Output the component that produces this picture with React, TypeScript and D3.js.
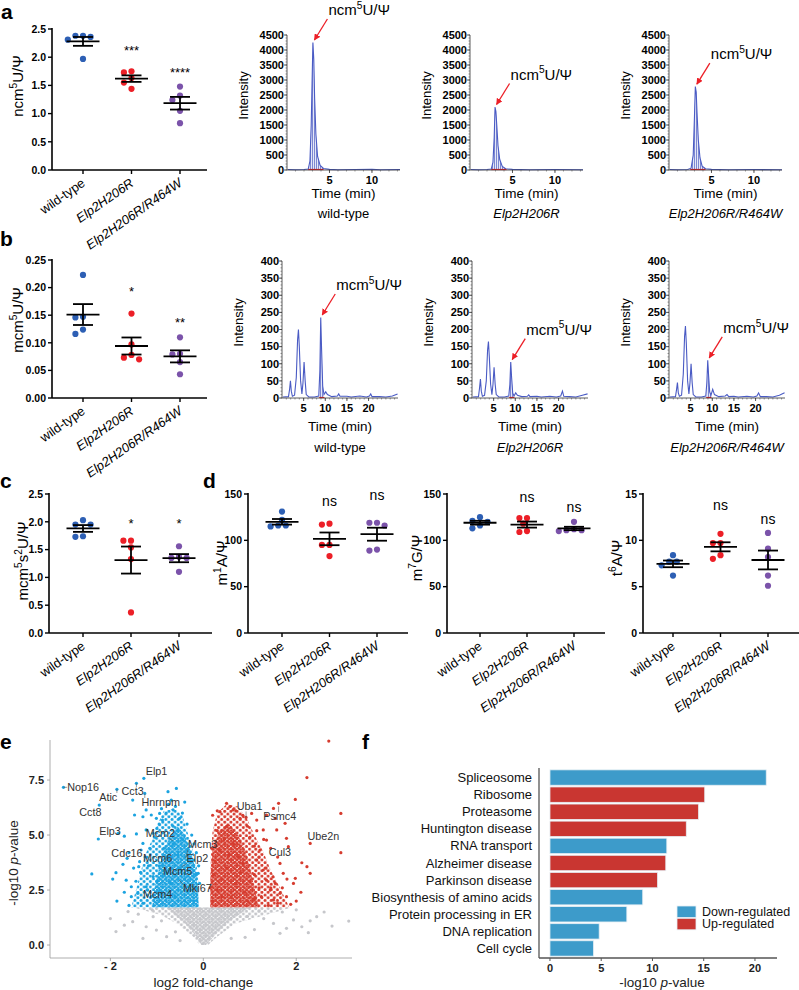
import * as d3 from "d3";

const FONT = "'Liberation Sans', Arial, Helvetica, sans-serif";

const genotypes = ["wild-type", "Elp2H206R", "Elp2H206R/R464W"];
const groupColors = ["#2d5fb4", "#ec1f27", "#7b53aa"];

// a — ncm5U/Ψ
const ncm5U = [
  [2.38, 2.36, 2.38, 2.31, 1.97],
  [1.75, 1.73, 1.63, 1.55, 1.44],
  [1.48, 1.32, 1.24, 1.05, 0.83],
];
const ncm5USigText = ["", "***", "****"];
const ncm5USigLevel = [0, 2.18, 1.79];

// b — mcm5U/Ψ
const mcm5U = [
  [0.223, 0.147, 0.146, 0.124, 0.116],
  [0.153, 0.097, 0.078, 0.073, 0.07],
  [0.11, 0.08, 0.079, 0.065, 0.043],
];
const mcm5USigText = ["", "*", "**"];
const mcm5USigLevel = [0, 0.199, 0.143];

// c — mcm5s2U/Ψ
const mcm5s2U = [
  [2.03, 1.95, 1.95, 1.74, 1.73],
  [1.66, 1.66, 1.54, 1.33, 0.37],
  [1.56, 1.37, 1.35, 1.35, 1.1],
];
const mcm5s2USigText = ["", "*", "*"];
const mcm5s2USigLevel = [0, 2.03, 2.03];

// d — m1A, m7G, t6A
const m1A = [
  [131, 122, 116, 115, 116],
  [118, 117, 95, 95, 83],
  [119, 119, 116, 90, 89],
];
const m1ASigLevel = [0, 141, 148];
const m7G = [
  [125, 120, 121, 113, 116],
  [124, 124, 118, 109, 110],
  [120, 111, 112, 111, 110],
];
const m7GSigLevel = [0, 146, 135];
const t6A = [
  [8.4, 7.7, 7.7, 7.3, 6.2],
  [10.7, 9.7, 9.7, 8.0, 8.4],
  [10.8, 9.1, 8.2, 6.2, 5.1],
];
const t6ASigLevel = [0, 13.7, 12.2];
const nsText = ["", "ns", "ns"];

// chromatogram traces [time (min), intensity]
const ncmTraceWT = [[0.1, 15], [1, 10], [2, 15], [2.5, 30], [2.7, 300], [2.85, 1500], [2.95, 2900], [3.05, 4250], [3.15, 3700], [3.25, 2400], [3.4, 1200], [3.6, 450], [3.9, 150], [4.3, 50], [5, 20], [6, 10], [8, 15], [10, 20], [11, 10], [13.3, 15]];
const ncmTraceH206R = [[0.1, 15], [1, 10], [2, 15], [2.5, 30], [2.7, 250], [2.85, 1100], [2.95, 2100], [3.05, 1950], [3.15, 1500], [3.3, 800], [3.5, 350], [3.8, 120], [4.2, 40], [5, 20], [7, 10], [10, 15], [13.3, 10]];
const ncmTraceR464W = [[0.1, 15], [1, 10], [2.2, 15], [2.6, 60], [2.85, 500], [3.0, 1800], [3.1, 2780], [3.2, 2600], [3.3, 1900], [3.45, 1000], [3.65, 400], [3.9, 130], [4.3, 40], [5, 20], [7, 10], [10, 15], [13.3, 10]];
const mcmTraceWT = [[0.2, 3], [1.5, 4], [1.75, 25], [1.95, 50], [2.15, 20], [2.4, 5], [2.9, 8], [3.3, 60], [3.6, 170], [3.8, 200], [4.0, 150], [4.3, 50], [4.6, 12], [4.85, 45], [5.1, 105], [5.35, 50], [5.6, 10], [6.2, 3], [7.5, 3], [8.5, 6], [8.75, 80], [8.95, 235], [9.15, 140], [9.4, 35], [9.7, 10], [10.1, 18], [10.5, 10], [11.5, 4], [12.8, 6], [13.1, 12], [13.4, 5], [15, 5], [16, 3], [18, 6], [19.5, 3], [20.2, 6], [20.5, 12], [20.8, 4], [22.5, 4], [24, 3], [25.5, 6], [26.7, 12]];
const mcmTraceH206R = [[0.2, 3], [1.5, 4], [1.75, 30], [1.95, 55], [2.15, 20], [2.4, 5], [2.9, 8], [3.3, 50], [3.6, 140], [3.8, 165], [4.0, 120], [4.3, 40], [4.6, 10], [4.85, 40], [5.1, 90], [5.35, 40], [5.6, 10], [6.2, 3], [7.5, 3], [8.5, 6], [8.75, 40], [8.95, 105], [9.15, 60], [9.4, 15], [9.7, 6], [10.1, 15], [10.5, 8], [11.5, 4], [12.8, 5], [13.1, 9], [13.4, 4], [15, 5], [16, 3], [18, 5], [19.5, 3], [20.5, 6], [20.9, 20], [21.2, 5], [22.5, 4], [24, 3], [25.5, 8], [26.7, 12]];
const mcmTraceR464W = [[0.2, 3], [1.5, 4], [1.75, 25], [1.95, 45], [2.15, 15], [2.4, 5], [2.9, 8], [3.3, 70], [3.6, 180], [3.8, 210], [4.0, 160], [4.3, 50], [4.6, 12], [4.85, 45], [5.1, 100], [5.35, 45], [5.6, 10], [6.2, 3], [7.5, 3], [8.5, 6], [8.75, 45], [8.95, 110], [9.15, 65], [9.4, 18], [9.7, 8], [10.1, 25], [10.5, 10], [11.5, 4], [13.0, 6], [13.4, 10], [13.8, 4], [15, 5], [16, 3], [18, 5], [19.5, 3], [20.3, 6], [20.7, 15], [21.1, 4], [22.5, 4], [24, 3], [25.5, 8], [26.7, 15]];

// e — volcano [log2 FC, -log10 p]
const volcanoUp = [[2.70, 9.27], [2.23, 7.61], [1.98, 6.62], [2.96, 5.98], [2.96, 4.2], [2.30, 4.62], [2.12, 3.74], [2.23, 3.56], [2.30, 3.26], [1.98, 3.03], [1.94, 2.8], [1.83, 4.47], [1.79, 4.85], [1.76, 5.53], [1.62, 6.44], [1.51, 6.21], [1.55, 5.76], [1.36, 5.91], [1.29, 5.23], [1.36, 4.77], [1.58, 5.23], [1.65, 3.71], [1.72, 3.26], [1.55, 2.8], [1.44, 2.5], [1.65, 2.35], [1.79, 2.2], [1.51, 2.05], [1.15, 5.68], [1.04, 5.98], [0.92, 5.8], [0.79, 5.76], [0.57, 6.29], [0.50, 6.44], [0.36, 6.06], [0.64, 6.14], [1.22, 4.32], [1.15, 3.86], [1.29, 3.41], [1.36, 2.95], [1.45, 2.6], [1.5, 3.1], [1.35, 3.5], [1.2, 4.0], [1.1, 4.5], [1.0, 4.9], [0.95, 5.4], [0.85, 5.9], [0.7, 6.1], [0.3, 6.1], [0.2, 5.9], [1.6, 1.9], [1.7, 2.6], [1.8, 3.0], [1.6, 4.0], [1.45, 4.4], [1.3, 4.8], [1.15, 5.2], [2.0, 2.0], [2.1, 2.4], [1.88, 1.85], [1.4, 1.8], [1.25, 2.2], [1.1, 3.2], [0.2, 2.0], [0.3, 2.5], [0.4, 3.0], [0.5, 3.5], [0.6, 2.2], [0.7, 2.8], [0.8, 3.3], [0.9, 2.4], [1.0, 2.9], [0.25, 3.8], [0.35, 4.3], [0.45, 4.8], [0.55, 4.1], [0.65, 4.6], [0.75, 4.0], [0.3, 5.2], [0.5, 5.4], [0.18, 4.4], [0.22, 3.2], [0.15, 2.6], [1.1, 2.1], [1.2, 2.6], [0.85, 3.7], [0.95, 2.0], [0.4, 2.2]];
const volcanoDown = [[-3.01, 7.17], [-2.40, 3.23], [-2.26, 4.82], [-2.24, 6.36], [-1.86, 7.08], [-1.86, 2.0], [-1.83, 5.08], [-1.70, 4.95], [-1.88, 3.29], [-1.73, 3.67], [-1.64, 3.94], [-1.55, 2.65], [-1.44, 7.35], [-1.52, 6.59], [-1.48, 5.91], [-1.44, 5.05], [-1.28, 7.58], [-1.26, 6.89], [-1.30, 5.83], [-1.23, 6.14], [-1.12, 5.91], [-1.01, 5.76], [-0.94, 5.98], [-0.88, 5.68], [-0.76, 6.97], [-0.58, 7.12], [-0.69, 6.59], [-0.65, 6.14], [-0.51, 5.76], [-1.34, 4.32], [-1.37, 3.79], [-1.39, 3.56], [-1.30, 4.62], [-1.23, 5.23], [-1.08, 5.08], [-1.66, 2.95], [-1.41, 2.35], [-1.23, 2.65], [-1.08, 3.11], [-1.12, 2.2], [-0.11, 3.26], [-1.55, 2.2], [-1.45, 2.9], [-1.35, 3.3], [-1.25, 4.0], [-1.2, 2.5], [-1.18, 3.6], [-1.15, 4.4], [-1.3, 1.9], [-1.5, 3.5], [-1.6, 4.2], [-1.05, 4.9], [-1.0, 5.3], [-0.95, 5.5], [-0.9, 6.2], [-0.8, 6.0], [-0.75, 6.4], [-0.6, 6.3], [-0.45, 6.0], [-0.4, 6.5], [-0.35, 5.5], [-0.25, 5.0], [-0.2, 4.6], [-0.15, 4.2], [-0.1, 3.6], [-0.08, 2.8], [-1.7, 2.4], [-1.95, 3.0], [-1.6, 1.8], [-0.2, 2.0], [-0.3, 2.5], [-0.4, 3.0], [-0.5, 3.5], [-0.6, 2.2], [-0.7, 2.8], [-0.8, 3.3], [-0.9, 2.4], [-1.0, 2.9], [-0.25, 3.8], [-0.35, 4.3], [-0.45, 4.8], [-0.55, 4.1], [-0.65, 4.6], [-0.75, 4.0], [-0.55, 5.2], [-0.65, 5.4], [-0.15, 2.6], [-0.15, 3.2], [-0.85, 4.4], [-0.95, 3.6], [-0.4, 2.0]];
const volcanoNs = [[3.13, 1.09], [2.77, 0.86], [2.44, 1.29], [2.26, 0.56], [2.12, 0.83], [1.94, 1.14], [1.79, 0.76], [1.65, 0.53], [1.51, 0.98], [-1.88, 0.61], [-1.62, 1.52], [-1.52, 1.06], [-1.30, 0.3], [-1.23, 0.83], [-1.01, 0.68], [-1.08, 1.29], [-0.79, 0.38], [1.3, 1.2], [1.1, 0.7], [0.9, 0.35], [-0.6, 0.6], [1.7, 1.5], [2.0, 1.6], [2.6, 1.5], [-1.4, 1.4], [-2.0, 1.2], [-1.7, 0.9], [0.6, 0.3], [-0.5, 0.2], [1.2, 1.55], [-1.1, 1.6], [2.3, 1.1], [0.95, 1.3], [-0.9, 1.1]];
// outlines of the dense clouds (same units): outer = loose, inner = packed
const upCloudOuter = [[0.15, 1.72], [1.85, 1.72], [1.65, 2.6], [1.45, 3.4], [1.3, 4.2], [1.1, 5.0], [0.95, 5.7], [0.75, 6.3], [0.5, 6.4], [0.3, 6.0], [0.2, 5.2], [0.16, 4.0], [0.15, 3.0]];
const upCloudInner = [[0.15, 1.72], [1.2, 1.72], [1.1, 2.6], [1.0, 3.5], [0.9, 4.3], [0.75, 5.0], [0.55, 5.5], [0.35, 5.2], [0.2, 4.4], [0.15, 3.0]];
const downCloudOuter = [[-0.1, 1.72], [-1.55, 1.72], [-1.45, 2.5], [-1.35, 3.3], [-1.25, 4.1], [-1.1, 4.8], [-0.98, 5.5], [-0.85, 6.1], [-0.6, 6.2], [-0.45, 5.9], [-0.35, 5.2], [-0.25, 4.5], [-0.15, 3.7], [-0.1, 2.8]];
const downCloudInner = [[-0.1, 1.72], [-1.1, 1.72], [-1.05, 2.6], [-0.95, 3.5], [-0.85, 4.3], [-0.7, 5.0], [-0.55, 5.4], [-0.4, 5.0], [-0.28, 4.3], [-0.17, 3.5], [-0.12, 2.6]];
const nsCloudOuter = [[-0.08, 0], [0.1, 0], [0.3, 0.38], [0.7, 0.98], [1.4, 1.4], [1.9, 1.7], [-1.5, 1.7], [-0.9, 1.35], [-0.58, 0.98], [-0.22, 0.38]];
const nsCloudInner = [[-0.04, 0], [0.06, 0], [0.25, 0.45], [0.5, 1.0], [1.0, 1.7], [-0.8, 1.7], [-0.4, 1.0], [-0.18, 0.45]];
const volcanoGenes = ["Nop16", "Elp1", "Cct3", "Atic", "Hnrnpm", "Cct8", "Elp3", "Mcm2", "Cdc16", "Mcm6", "Mcm3", "Elp2", "Mcm5", "Mki67", "Mcm4", "Uba1", "Psmc4", "Ube2n", "Cul3"];
const volcanoGenePoint = [[-3.01, 7.17], [-1.28, 7.58], [-1.44, 7.35], [-1.86, 7.08], [-1.26, 6.89], [-2.24, 6.36], [-2.26, 4.82], [-0.65, 4.75], [-1.4, 3.8], [-0.78, 3.6], [-0.38, 3.95], [-0.47, 3.55], [-0.6, 3.45], [-0.52, 2.95], [-0.95, 2.5], [0.92, 5.8], [1.62, 6.3], [2.3, 4.62], [1.83, 4.47]];
const volcanoGeneLabel = [[-2.93, 7.0], [-1.24, 7.73], [-1.76, 6.82], [-2.24, 6.55], [-1.33, 6.32], [-2.67, 5.86], [-2.24, 5.0], [-1.24, 4.9], [-1.98, 4.0], [-1.3, 3.77], [-0.33, 4.4], [-0.36, 3.77], [-0.87, 3.18], [-0.44, 2.41], [-1.3, 2.14], [0.72, 6.14], [1.29, 5.68], [2.24, 4.77], [1.41, 4.05]];

// f — KEGG enrichment
const pathways = ["Spliceosome", "Ribosome", "Proteasome", "Huntington disease", "RNA transport", "Alzheimer disease", "Parkinson disease", "Biosynthesis of amino acids", "Protein processing in ER", "DNA replication", "Cell cycle"];
const pathwayScore = [21.1, 15.1, 14.5, 13.3, 11.4, 11.3, 10.5, 9.05, 7.5, 4.8, 4.25];
const pathwayDir = ["Down-regulated", "Up-regulated", "Up-regulated", "Up-regulated", "Down-regulated", "Up-regulated", "Up-regulated", "Down-regulated", "Down-regulated", "Down-regulated", "Down-regulated"];
const dirLegend = ["Down-regulated", "Up-regulated"];
const dirColors = ["#3d9bca", "#c93631"];

const volBlue = "#1ba3e0";
const volRed = "#d63c2f";
const volGrey = "#c6c7cb";

type Part = [string, boolean];
function Rich({ parts, fs }: { parts: Part[]; fs: number }) {
  const lift = fs * 0.42;
  let raised = false;
  return (
    <>
      {parts.map(([t, sup], i) => {
        let dy = 0;
        if (sup && !raised) { dy = -lift; raised = true; }
        else if (!sup && raised) { dy = lift; raised = false; }
        return (
          <tspan key={i} dy={dy} fontSize={sup ? fs * 0.68 : fs}>{t}</tspan>
        );
      })}
    </>
  );
}

function swarm(vals: number[], y: (v: number) => number, r: number) {
  const order = vals.map((_, i) => i).sort((a, b) => vals[b] - vals[a]);
  const placed: { x: number; y: number }[] = [];
  const out: number[] = new Array(vals.length).fill(0);
  const cand = [0, -1, 1, -2, 2, -3, 3, -4, 4, -5, 5];
  for (const i of order) {
    const py = y(vals[i]);
    for (const c of cand) {
      const px = c * (r + 0.7);
      if (placed.every((p) => Math.hypot(p.x - px, p.y - py) >= 2 * r + 0.3)) {
        placed.push({ x: px, y: py });
        out[i] = px;
        break;
      }
    }
  }
  return out;
}

function DotPlot(p: any) {
  const y = d3.scaleLinear().domain([0, p.yMax]).range([p.yBottom, p.yTop]);
  const x = d3.scalePoint().domain(genotypes).range([p.catStart, p.catStart + 2 * p.catStep]);
  const r = 3.1;
  return (
    <g>
      <line x1={p.x0} x2={p.x0} y1={p.yTop - 1} y2={p.yBottom} stroke="#000" strokeWidth={1.6} />
      <line x1={p.x0} x2={p.x1} y1={p.yBottom} y2={p.yBottom} stroke="#000" strokeWidth={1.6} />
      {p.ticks.map((t: number) => (
        <g key={t}>
          <line x1={p.x0 - 4} x2={p.x0} y1={y(t)} y2={y(t)} stroke="#000" strokeWidth={1.4} />
          <text x={p.x0 - 6} y={y(t) + 3.8} textAnchor="end" fontSize={10.5} fontWeight="bold">{p.fmt(t)}</text>
        </g>
      ))}
      {genotypes.map((g, gi) => {
        const cx = x(g) as number;
        const vals: number[] = p.data[gi];
        const offs = swarm(vals, y, r);
        const m = d3.mean(vals) as number;
        const sem = (d3.deviation(vals) as number) / Math.sqrt(vals.length);
        const sig = p.sigText[gi];
        return (
          <g key={g}>
            <line x1={cx} x2={cx} y1={p.yBottom} y2={p.yBottom + 4} stroke="#000" strokeWidth={1.4} />
            <text transform={`translate(${cx + 3},${p.yBottom + 15}) rotate(-35)`} textAnchor="end" fontSize={13} fontStyle={gi > 0 ? "italic" : "normal"}>{g}</text>
            {vals.map((v, i) => (
              <circle key={i} cx={cx + offs[i]} cy={y(v)} r={r} fill={groupColors[gi]} />
            ))}
            <line x1={cx - 16.5} x2={cx + 16.5} y1={y(m)} y2={y(m)} stroke="#000" strokeWidth={1.8} />
            <line x1={cx} x2={cx} y1={y(m + sem)} y2={y(m - sem)} stroke="#000" strokeWidth={1.8} />
            <line x1={cx - 10} x2={cx + 10} y1={y(m + sem)} y2={y(m + sem)} stroke="#000" strokeWidth={1.8} />
            <line x1={cx - 10} x2={cx + 10} y1={y(m - sem)} y2={y(m - sem)} stroke="#000" strokeWidth={1.8} />
            {sig && (
              <text x={cx} y={y(p.sigLevel[gi]) + (sig.startsWith("*") ? 7.5 : 3.8)} textAnchor="middle" fontSize={sig.startsWith("*") ? 13 : 14}>{sig}</text>
            )}
          </g>
        );
      })}
      <text transform={`translate(${p.labelX},${p.labelY}) rotate(-90)`} textAnchor="middle" fontSize={15}>
        <Rich parts={p.label} fs={15} />
      </text>
    </g>
  );
}

function Chromatogram(p: any) {
  const x = d3.scaleLinear().domain([0, p.tMax]).range([p.x0, p.x0 + p.width]);
  const y = d3.scaleLinear().domain([0, p.yMax]).range([p.yBottom, p.yTop]);
  const line = d3.line<number[]>().x((d) => x(d[0])).y((d) => y(d[1]));
  const area = d3.area<number[]>().x((d) => x(d[0])).y0(y(0)).y1((d) => y(d[1]));
  const peakPts = p.trace.filter((d: number[]) => d[0] >= p.peak[0] && d[0] <= p.peak[1]);
  const top = peakPts.reduce((a: number[], b: number[]) => (b[1] > a[1] ? b : a));
  const tipX = x(top[0]) + 1.5;
  const tipY = y(top[1]) - 2.5;
  const tailX = tipX + 13;
  const tailY = tipY - 21;
  const majors = d3.range(0, p.yMax + 1, p.yStep);
  const minors = d3.range(0, p.yMax + 1, p.yStep / 5);
  const xMinor = d3.range(1, p.tMax, 1);
  const cx = p.x0 + p.width / 2;
  return (
    <g>
      <path d={area(peakPts) as string} fill="url(#hatch)" />
      <path d={line(p.trace) as string} fill="none" stroke="#4a5bc4" strokeWidth={1.1} />
      <line x1={x(p.peak[0])} x2={x(p.peak[1])} y1={p.yBottom - 0.5} y2={p.yBottom - 0.5} stroke="#ec1f27" strokeWidth={1.2} />
      <line x1={p.x0} x2={p.x0} y1={p.yTop} y2={p.yBottom} stroke="#333" strokeWidth={0.8} />
      <line x1={p.x0} x2={p.x0 + p.width} y1={p.yBottom} y2={p.yBottom} stroke="#333" strokeWidth={0.8} />
      {minors.map((t: number) => (
        <line key={"m" + t} x1={p.x0 - 1.5} x2={p.x0} y1={y(t)} y2={y(t)} stroke="#555" strokeWidth={0.6} />
      ))}
      {majors.map((t: number) => (
        <g key={t}>
          <line x1={p.x0 - 3} x2={p.x0} y1={y(t)} y2={y(t)} stroke="#333" strokeWidth={0.8} />
          <text x={p.x0 - 3} y={y(t) + 3.8} textAnchor="end" fontSize={11} fontWeight="bold">{t}</text>
        </g>
      ))}
      {xMinor.map((t: number) => (
        <line key={"x" + t} x1={x(t)} x2={x(t)} y1={p.yBottom} y2={p.yBottom + 1.5} stroke="#555" strokeWidth={0.6} />
      ))}
      {p.xTicks.map((t: number) => (
        <g key={"t" + t}>
          <line x1={x(t)} x2={x(t)} y1={p.yBottom} y2={p.yBottom + 3} stroke="#333" strokeWidth={0.8} />
          <text x={x(t)} y={p.yBottom + 13.5} textAnchor="middle" fontSize={11} fontWeight="bold">{t}</text>
        </g>
      ))}
      <line x1={tailX} y1={tailY} x2={tipX} y2={tipY} stroke="#ec1f27" strokeWidth={1.3} markerEnd="url(#arrow)" />
      <text x={tailX + 1} y={tailY - 4} fontSize={15}>
        <Rich parts={p.annot} fs={15} />
      </text>
      <text transform={`translate(${p.x0 - 39},${(p.yTop + p.yBottom) / 2 - 7}) rotate(-90)`} textAnchor="middle" fontSize={13}>Intensity</text>
      <text x={cx} y={p.timeY} textAnchor="middle" fontSize={13.5}>Time (min)</text>
      <text x={cx} y={p.genoY} textAnchor="middle" fontSize={13} fontStyle={p.italic ? "italic" : "normal"}>{p.geno}</text>
    </g>
  );
}

function Volcano() {
  const x = d3.scaleLinear().domain([-3.3, 3.2]).range([50, 352]);
  const y = d3.scaleLinear().domain([-0.59, 9.32]).range([958, 740]);
  const poly = (pts: number[][]) => "M" + pts.map((d) => `${x(d[0])},${y(d[1])}`).join("L") + "Z";
  const r = 1.6;
  return (
    <g>
      <path d={poly(nsCloudOuter)} fill="url(#looseGrey)" />
      <path d={poly(nsCloudInner)} fill="url(#packedGrey)" />
      {volcanoNs.map((d, i) => <circle key={"n" + i} cx={x(d[0])} cy={y(d[1])} r={r} fill={volGrey} />)}
      <path d={poly(downCloudOuter)} fill="url(#looseBlue)" />
      <path d={poly(downCloudInner)} fill="url(#packedBlue)" />
      <path d={poly(upCloudOuter)} fill="url(#looseRed)" />
      <path d={poly(upCloudInner)} fill="url(#packedRed)" />
      {volcanoDown.map((d, i) => <circle key={"d" + i} cx={x(d[0])} cy={y(d[1])} r={r} fill={volBlue} />)}
      {volcanoUp.map((d, i) => <circle key={"u" + i} cx={x(d[0])} cy={y(d[1])} r={r} fill={volRed} />)}
      {volcanoGenes.map((g, i) => {
        const [px, py] = [x(volcanoGenePoint[i][0]), y(volcanoGenePoint[i][1])];
        const [lx, ly] = [x(volcanoGeneLabel[i][0]), y(volcanoGeneLabel[i][1])];
        const w = g.length * 5.9;
        const nx = Math.max(lx, Math.min(px, lx + w));
        const ny = Math.max(ly - 8, Math.min(py, ly + 1.5));
        const dist = Math.hypot(nx - px, ny - py);
        return (
          <g key={g}>
            {dist > 3 && <line x1={px} y1={py} x2={nx} y2={ny} stroke="#555" strokeWidth={0.6} />}
            <text x={lx} y={ly} fontSize={10.8} fill="#333">{g}</text>
          </g>
        );
      })}
      <line x1={50} x2={50} y1={740} y2={958} stroke="#999" strokeWidth={0.8} />
      <line x1={50} x2={352} y1={958} y2={958} stroke="#999" strokeWidth={0.8} />
      {[0, 2.5, 5, 7.5].map((t) => (
        <g key={t}>
          <line x1={47} x2={50} y1={y(t)} y2={y(t)} stroke="#999" strokeWidth={0.8} />
          <text x={44} y={y(t) + 4} textAnchor="end" fontSize={11} fontWeight="bold" fill="#222">{t.toFixed(1)}</text>
        </g>
      ))}
      {[-2, 0, 2].map((t) => (
        <g key={t}>
          <line x1={x(t)} x2={x(t)} y1={958} y2={961} stroke="#999" strokeWidth={0.8} />
          <text x={x(t)} y={970} textAnchor="middle" fontSize={11} fontWeight="bold" fill="#222">{t < 0 ? `- ${-t}` : t}</text>
        </g>
      ))}
      <text x={x(0)} y={987} textAnchor="middle" fontSize={13.5} fill="#222">log2 fold-change</text>
      <text transform="translate(18,863) rotate(-90)" textAnchor="middle" fontSize={13.5} fill="#222">
        -log10 <tspan fontStyle="italic">p</tspan>-value
      </text>
    </g>
  );
}

function Enrichment() {
  const x = d3.scaleLinear().domain([-1.07, 22.15]).range([539, 777]);
  const y = d3.scaleBand().domain(pathways).range([769, 957]).paddingInner(0.1).paddingOuter(0.05);
  const color = d3.scaleOrdinal<string>().domain(dirLegend).range(dirColors);
  return (
    <g>
      {pathways.map((p, i) => (
        <g key={p}>
          <rect x={x(0)} y={y(p)} width={x(pathwayScore[i]) - x(0)} height={y.bandwidth()} fill={color(pathwayDir[i])} stroke="#e6eef4" strokeWidth={0.8} />
          <text x={532} y={(y(p) as number) + y.bandwidth() / 2 + 4.5} textAnchor="end" fontSize={13} fill="#111">{p}</text>
        </g>
      ))}
      <line x1={539} x2={539} y1={768} y2={958} stroke="#555" strokeWidth={1.3} />
      <line x1={539} x2={777} y1={958} y2={958} stroke="#555" strokeWidth={1.3} />
      {[0, 5, 10, 15, 20].map((t) => (
        <g key={t}>
          <line x1={x(t)} x2={x(t)} y1={958} y2={961} stroke="#555" strokeWidth={1} />
          <text x={x(t)} y={972} textAnchor="middle" fontSize={11} fontWeight="bold" fill="#222">{t}</text>
        </g>
      ))}
      <text x={662} y={987} textAnchor="middle" fontSize={13.5} fill="#222">
        -log10 <tspan fontStyle="italic">p</tspan>-value
      </text>
      {dirLegend.map((d, i) => (
        <g key={d}>
          <rect x={677} y={906 + i * 12.3} width={19} height={11.5} fill={color(d)} stroke="#e6eef4" strokeWidth={0.8} />
          <text x={702} y={916 + i * 12.3} fontSize={12.5} fill="#111">{d}</text>
        </g>
      ))}
    </g>
  );
}

function DotPattern({ id, color, w, h, r }: { id: string; color: string; w: number; h: number; r: number }) {
  return (
    <pattern id={id} width={w} height={h} patternUnits="userSpaceOnUse">
      <circle cx={w * 0.25} cy={h * 0.25} r={r} fill={color} />
      <circle cx={w * 0.75} cy={h * 0.75} r={r} fill={color} />
    </pattern>
  );
}

const ncmLabel: Part[] = [["ncm", false], ["5", true], ["U/Ψ", false]];
const mcmLabel: Part[] = [["mcm", false], ["5", true], ["U/Ψ", false]];

export default function App() {
  const chromA = { yTop: 35, yBottom: 170, tMax: 13.3, yMax: 4500, yStep: 500, xTicks: [5, 10], peak: [2.5, 4.3], annot: ncmLabel, timeY: 198, genoY: 218, width: 113 };
  const chromB = { yTop: 261, yBottom: 398, tMax: 26.8, yMax: 400, yStep: 50, xTicks: [5, 10, 15, 20], peak: [8.6, 9.8], annot: mcmLabel, timeY: 431, genoY: 452, width: 116 };
  const fmt1 = (d: number) => d.toFixed(1);
  const fmt2 = (d: number) => d.toFixed(2);
  const fmt0 = (d: number) => String(d);
  return (
    <div style={{ position: "absolute", left: 0, top: 0 }}>
      <svg width={799} height={990} fontFamily={FONT} style={{ display: "block", background: "#fff" }}>
        <defs>
          <pattern id="hatch" width="2" height="2" patternUnits="userSpaceOnUse">
            <rect width="2" height="2" fill="#e4e7f7" />
            <rect width="1" height="2" fill="#7d88d2" />
          </pattern>
          <marker id="arrow" viewBox="0 0 10 10" refX="9" refY="5" markerWidth="5" markerHeight="5" orient="auto">
            <path d="M0,0 L10,5 L0,10 z" fill="#ec1f27" />
          </marker>
          <DotPattern id="looseBlue" color={volBlue} w={6.2} h={5.4} r={1.5} />
          <DotPattern id="packedBlue" color={volBlue} w={3.9} h={3.5} r={1.45} />
          <DotPattern id="looseRed" color={volRed} w={6.2} h={5.4} r={1.5} />
          <DotPattern id="packedRed" color={volRed} w={3.9} h={3.5} r={1.45} />
          <DotPattern id="looseGrey" color={volGrey} w={6.2} h={5.4} r={1.5} />
          <DotPattern id="packedGrey" color={volGrey} w={3.9} h={3.5} r={1.45} />
        </defs>

        <g fontWeight="bold" fontSize={21}>
          <text x={1} y={19}>a</text>
          <text x={0} y={246}>b</text>
          <text x={0} y={488}>c</text>
          <text x={203} y={488}>d</text>
          <text x={0} y={749}>e</text>
          <text x={362} y={749}>f</text>
        </g>

        <DotPlot x0={52} x1={207} catStart={83} catStep={48.5} yTop={29} yBottom={170} yMax={2.5}
          ticks={[0, 0.5, 1, 1.5, 2, 2.5]} fmt={fmt1} data={ncm5U} sigText={ncm5USigText} sigLevel={ncm5USigLevel}
          label={ncmLabel} labelX={23} labelY={86} />
        <Chromatogram {...chromA} x0={287} trace={ncmTraceWT} geno="wild-type" italic={false} />
        <Chromatogram {...chromA} x0={470} trace={ncmTraceH206R} geno="Elp2H206R" italic />
        <Chromatogram {...chromA} x0={669} trace={ncmTraceR464W} geno="Elp2H206R/R464W" italic />

        <DotPlot x0={52} x1={207} catStart={83} catStep={48.5} yTop={260} yBottom={398} yMax={0.25}
          ticks={[0, 0.05, 0.1, 0.15, 0.2, 0.25]} fmt={fmt2} data={mcm5U} sigText={mcm5USigText} sigLevel={mcm5USigLevel}
          label={mcmLabel} labelX={23} labelY={320} />
        <Chromatogram {...chromB} x0={282} trace={mcmTraceWT} geno="wild-type" italic={false} />
        <Chromatogram {...chromB} x0={472} trace={mcmTraceH206R} geno="Elp2H206R" italic />
        <Chromatogram {...chromB} x0={669} trace={mcmTraceR464W} geno="Elp2H206R/R464W" italic />

        <DotPlot x0={49} x1={212} catStart={83} catStep={48} yTop={494} yBottom={633} yMax={2.5}
          ticks={[0, 0.5, 1, 1.5, 2, 2.5]} fmt={fmt1} data={mcm5s2U} sigText={mcm5s2USigText} sigLevel={mcm5s2USigLevel}
          label={[["mcm", false], ["5", true], ["s", false], ["2", true], ["U/Ψ", false]]} labelX={28} labelY={561} />
        <DotPlot x0={248} x1={408} catStart={282} catStep={47.5} yTop={494} yBottom={633} yMax={150}
          ticks={[0, 50, 100, 150]} fmt={fmt0} data={m1A} sigText={nsText} sigLevel={m1ASigLevel}
          label={[["m", false], ["1", true], ["A/Ψ", false]]} labelX={227} labelY={563} />
        <DotPlot x0={447} x1={605} catStart={480} catStep={47} yTop={494} yBottom={633} yMax={150}
          ticks={[0, 50, 100, 150]} fmt={fmt0} data={m7G} sigText={nsText} sigLevel={m7GSigLevel}
          label={[["m", false], ["7", true], ["G/Ψ", false]]} labelX={422} labelY={558} />
        <DotPlot x0={643} x1={799} catStart={673} catStep={47.5} yTop={494} yBottom={633} yMax={15}
          ticks={[0, 5, 10, 15]} fmt={fmt0} data={t6A} sigText={nsText} sigLevel={t6ASigLevel}
          label={[["t", false], ["6", true], ["A/Ψ", false]]} labelX={622} labelY={558} />

        <Volcano />
        <Enrichment />
      </svg>
    </div>
  );
}
